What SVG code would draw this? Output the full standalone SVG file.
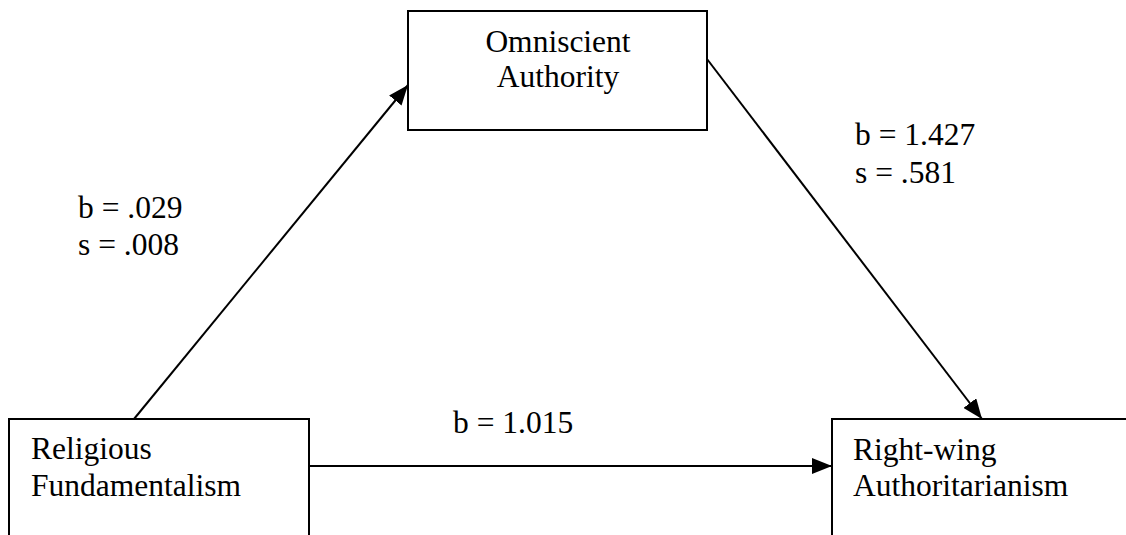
<svg xmlns="http://www.w3.org/2000/svg" width="1126" height="535" viewBox="0 0 1126 535">
<style>
.box{fill:#fff;stroke:#000;stroke-width:2}
.t{font-family:"Liberation Serif","Times New Roman",serif;font-size:31.5px;fill:#000}
.c{stroke:#000;stroke-width:2;fill:none}
</style>
<defs>
<marker id="ah" markerWidth="10" markerHeight="8" refX="10" refY="4" orient="auto" markerUnits="userSpaceOnUse" viewBox="0 0 10 8">
<path d="M0,0 L10,4 L0,8 Z" fill="#000"/>
</marker>
<marker id="ah2" markerWidth="20" markerHeight="16" refX="20" refY="8" orient="auto" markerUnits="userSpaceOnUse" viewBox="0 0 20 16">
<path d="M0,0 L20,8 L0,16 Z" fill="#000"/>
</marker>
</defs>
<rect width="1126" height="535" fill="#fff"/>
<g id="connectors">
<line class="c" x1="134" y1="419" x2="408" y2="85" marker-end="url(#ah2)"/>
<line class="c" x1="707" y1="59" x2="982" y2="419" marker-end="url(#ah2)"/>
<line class="c" x1="309" y1="466" x2="832" y2="466" marker-end="url(#ah2)"/>
<text class="t" x="78" y="218">b = .029</text>
<text class="t" x="78" y="255">s = .008</text>
<text class="t" x="855" y="145">b = 1.427</text>
<text class="t" x="855" y="183">s = .581</text>
<text class="t" x="453" y="433">b = 1.015</text>
</g>
<g id="omniscient">
<rect class="box" x="408" y="11" width="299" height="119"/>
<text class="t" x="558" y="52" text-anchor="middle">Omniscient</text>
<text class="t" x="558" y="87" text-anchor="middle">Authority</text>
</g>
<g id="religious">
<rect class="box" x="9" y="419" width="300" height="130"/>
<text class="t" x="31" y="459">Religious</text>
<text class="t" x="31" y="496">Fundamentalism</text>
</g>
<g id="rwa">
<rect class="box" x="832" y="419" width="310" height="130"/>
<text class="t" x="853" y="460">Right-wing</text>
<text class="t" x="853" y="496">Authoritarianism</text>
</g>
</svg>
